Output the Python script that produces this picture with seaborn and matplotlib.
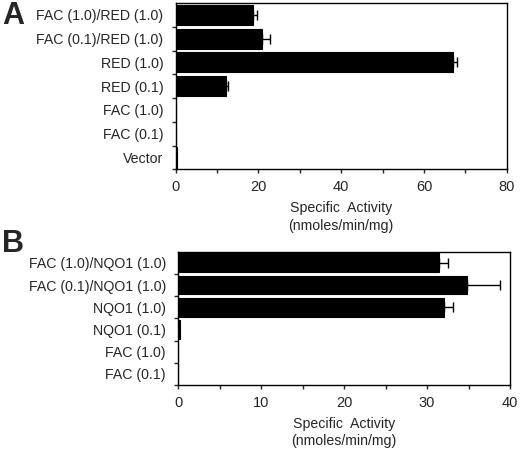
import numpy as np
import pandas as pd
import matplotlib
matplotlib.use("Agg")
import matplotlib.pyplot as plt
import seaborn as sns

# Panel A data
a_labels = ["FAC (1.0)/RED (1.0)", "FAC (0.1)/RED (1.0)", "RED (1.0)", "RED (0.1)",
            "FAC (1.0)", "FAC (0.1)", "Vector"]
a_values = [18.6, 20.9, 67.1, 12.1, 0.0, 0.0, 0.4]
a_errors = [1.1, 2.0, 0.9, 0.5, 0.0, 0.0, 0.0]
a_xticks = [0, 20, 40, 60, 80]

# Panel B data
b_labels = ["FAC (1.0)/NQO1 (1.0)", "FAC (0.1)/NQO1 (1.0)", "NQO1 (1.0)", "NQO1 (0.1)",
            "FAC (1.0)", "FAC (0.1)"]
b_values = [31.4, 34.8, 32.1, 0.25, 0.0, 0.0]
b_errors = [1.1, 4.0, 1.0, 0.0, 0.0, 0.0]
b_xticks = [0, 10, 20, 30, 40]

sns.set_style("ticks")
plt.rcParams["font.family"] = ["Liberation Sans", "DejaVu Sans"]
plt.rcParams["font.size"] = 10

fig = plt.figure(figsize=(5.2, 4.54), dpi=100)
W, H = 520, 454
def rect(l, t, r, b):
    return [l / W, 1 - b / H, (r - l) / W, (b - t) / H]

axA = fig.add_axes(rect(175.7, 3, 506.7, 169.3))
axB = fig.add_axes(rect(178.3, 251.7, 510, 385))

def panel(ax, labels, values, errors, xticks, minor_step):
    df = pd.DataFrame({"label": labels, "value": values})
    sns.barplot(data=df, x="value", y="label", orient="h", color="black",
                width=0.85, ax=ax, errorbar=None, saturation=1,
                edgecolor="black", linewidth=0.8)
    n = len(labels)
    pos = np.arange(n)
    errs = np.array(errors)
    vals = np.array(values)
    mask = errs > 0
    ax.errorbar(vals[mask], pos[mask], xerr=[np.zeros(mask.sum()), errs[mask]],
                fmt="none", ecolor="black", elinewidth=1, capsize=3.5, capthick=1)
    ax.set_xlim(xticks[0], xticks[-1])
    ax.set_ylim(n - 0.5, -0.5)
    ax.set_xticks(xticks)
    ax.set_xticks(np.arange(xticks[0], xticks[-1] + 0.001, minor_step), minor=True)
    ax.set_yticks(pos)
    ax.set_yticklabels(labels)
    ax.set_yticks(np.arange(n) + 0.5, minor=True)
    ax.tick_params(axis="y", which="major", length=0, pad=9, labelsize=10.2)
    ax.tick_params(axis="y", which="minor", length=3, width=1, direction="out")
    ax.tick_params(axis="x", which="both", length=3, width=1, direction="out",
                   pad=5, labelsize=10.5)
    ax.set_ylabel("")
    ax.set_xlabel("Specific  Activity\n(nmoles/min/mg)", fontsize=10.2, labelpad=5,
                  linespacing=1.3)
    for s in ax.spines.values():
        s.set_visible(True)
        s.set_linewidth(1)
        s.set_color("black")

panel(axA, a_labels, a_values, a_errors, a_xticks, 10)
panel(axB, b_labels, b_values, b_errors, b_xticks, 5)

fig.text(2 / W, 1 - 16 / H, "A", fontsize=22, fontweight="bold", va="center", ha="left")
fig.text(2 / W, 1 - 244 / H, "B", fontsize=22, fontweight="bold", va="center", ha="left")

fig.savefig("out.png", dpi=100)
